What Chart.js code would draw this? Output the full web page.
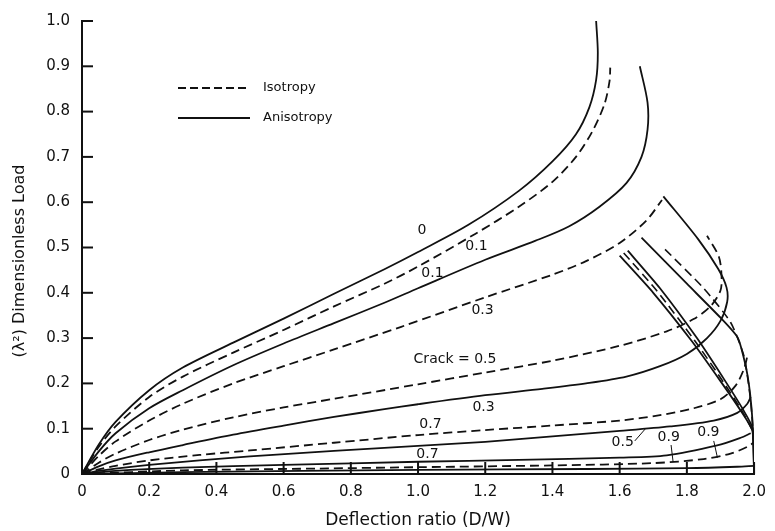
<!DOCTYPE html>
<html>
<head>
<meta charset="utf-8">
<script src="https://cdn.jsdelivr.net/npm/chart.js@4.4.1/dist/chart.umd.min.js"></script>
<style>
  html, body { margin: 0; padding: 0; background: #fff; }
  canvas { display: block; }
</style>
</head>
<body>
<canvas id="chart" width="775" height="531"></canvas>
<script>
// tick labels
const xTickLabels = ['0', '0.2', '0.4', '0.6', '0.8', '1.0', '1.2', '1.4', '1.6', '1.8', '2.0'];
const yTickLabels = ['0', '0.1', '0.2', '0.3', '0.4', '0.5', '0.6', '0.7', '0.8', '0.9', '1.0'];

// anisotropy (solid) curves
const aniso0X = [0, 0.05, 0.1, 0.2, 0.3, 0.45, 0.6, 0.75, 0.9, 1.0, 1.15, 1.3, 1.4, 1.47, 1.51, 1.53, 1.535, 1.53];
const aniso0Y = [0, 0.065, 0.115, 0.185, 0.235, 0.29, 0.343, 0.398, 0.452, 0.49, 0.55, 0.625, 0.69, 0.75, 0.81, 0.87, 0.93, 1.0];
const aniso1X = [0, 0.05, 0.1, 0.2, 0.3, 0.45, 0.6, 0.75, 0.9, 1.0, 1.2, 1.35, 1.45, 1.54, 1.62, 1.665, 1.683, 1.683, 1.66];
const aniso1Y = [0, 0.05, 0.09, 0.145, 0.185, 0.24, 0.288, 0.333, 0.378, 0.41, 0.473, 0.515, 0.547, 0.59, 0.642, 0.7, 0.76, 0.82, 0.9];
const aniso3X = [0, 0.05, 0.1, 0.2, 0.3, 0.45, 0.6, 0.75, 0.9, 1.0, 1.2, 1.37, 1.5, 1.62, 1.72, 1.8, 1.86, 1.9, 1.92, 1.918, 1.893, 1.834, 1.73];
const aniso3Y = [0, 0.017, 0.03, 0.048, 0.064, 0.087, 0.107, 0.126, 0.143, 0.154, 0.174, 0.188, 0.2, 0.215, 0.238, 0.265, 0.3, 0.338, 0.38, 0.412, 0.453, 0.518, 0.613];
const aniso5X = [0, 0.05, 0.1, 0.2, 0.35, 0.5, 0.75, 1.0, 1.2, 1.4, 1.6, 1.75, 1.88, 1.95, 1.98, 1.99];
const aniso5Y = [0, 0.007, 0.012, 0.02, 0.03, 0.039, 0.051, 0.062, 0.071, 0.083, 0.095, 0.105, 0.118, 0.135, 0.155, 0.17];
const aniso7X = [0, 0.1, 0.3, 0.6, 1.0, 1.3, 1.6, 1.74, 1.89, 1.96, 1.99];
const aniso7Y = [0, 0.007, 0.014, 0.02, 0.027, 0.031, 0.036, 0.041, 0.063, 0.08, 0.09];
const aniso9X = [0, 0.3, 1.0, 1.5, 1.8, 1.95, 2.0];
const aniso9Y = [0, 0.004, 0.009, 0.011, 0.013, 0.016, 0.018];

// isotropy (dashed) curves
const iso1X = [0, 0.05, 0.1, 0.2, 0.3, 0.45, 0.6, 0.75, 0.9, 1.0, 1.17, 1.3, 1.4, 1.47, 1.52, 1.555, 1.57, 1.572];
const iso1Y = [0, 0.06, 0.105, 0.17, 0.215, 0.268, 0.318, 0.37, 0.42, 0.458, 0.53, 0.59, 0.645, 0.7, 0.758, 0.817, 0.868, 0.897];
const iso3X = [0, 0.05, 0.1, 0.2, 0.3, 0.45, 0.6, 0.75, 0.95, 1.2, 1.4, 1.5, 1.6, 1.68, 1.726];
const iso3Y = [0, 0.04, 0.072, 0.118, 0.155, 0.2, 0.238, 0.275, 0.325, 0.39, 0.44, 0.47, 0.51, 0.56, 0.605];
const iso5X = [0, 0.05, 0.1, 0.2, 0.3, 0.45, 0.6, 0.75, 1.0, 1.2, 1.4, 1.6, 1.74, 1.82, 1.87, 1.9, 1.903, 1.895, 1.86];
const iso5Y = [0, 0.025, 0.045, 0.075, 0.098, 0.125, 0.147, 0.166, 0.198, 0.224, 0.25, 0.283, 0.315, 0.342, 0.37, 0.405, 0.44, 0.48, 0.526];
const iso7X = [0, 0.05, 0.1, 0.2, 0.35, 0.5, 0.75, 1.0, 1.2, 1.4, 1.6, 1.72, 1.82, 1.9, 1.945, 1.97, 1.98];
const iso7Y = [0, 0.01, 0.018, 0.03, 0.042, 0.052, 0.069, 0.086, 0.097, 0.107, 0.118, 0.13, 0.145, 0.165, 0.195, 0.232, 0.26];
const iso9X = [0, 0.3, 0.7, 1.0, 1.4, 1.7, 1.85, 1.93, 1.98, 2.0];
const iso9Y = [0, 0.008, 0.012, 0.015, 0.019, 0.024, 0.033, 0.045, 0.06, 0.07];

// unloading branches near D/W = 2
const dropAX = [1.60, 1.70, 1.815, 1.90, 1.96, 1.995, 2.0];
const dropAY = [0.482, 0.40, 0.293, 0.205, 0.14, 0.095, 0.0];
const dropBX = [1.624, 1.72, 1.83, 1.91, 1.965, 1.996, 2.0];
const dropBY = [0.493, 0.41, 0.3, 0.21, 0.145, 0.1, 0.0];
const dropCX = [1.612, 1.71, 1.822, 1.905, 1.962, 1.995];
const dropCY = [0.488, 0.405, 0.296, 0.207, 0.142, 0.097];
const dropDX = [1.665, 1.80, 1.90, 1.952, 1.98, 1.995, 2.0];
const dropDY = [0.522, 0.42, 0.345, 0.3, 0.22, 0.12, 0.0];
const dropEX = [1.735, 1.85, 1.93, 1.97, 1.99, 2.0];
const dropEY = [0.496, 0.41, 0.335, 0.26, 0.16, 0.06];

// leader lines for the small labels
const lead5X = [1.645, 1.678];
const lead5Y = [0.073, 0.101];
const lead9aX = [1.753, 1.759];
const lead9aY = [0.064, 0.027];
const lead9bX = [1.88, 1.891];
const lead9bY = [0.073, 0.036];

// curve labels (text and data position)
const labelText = ['0', '0.1', '0.1', '0.3', 'Crack = 0.5', '0.3', '0.7', '0.7', '0.5', '0.9', '0.9'];
const labelX = [1.012, 1.174, 1.043, 1.192, 1.110, 1.195, 1.037, 1.028, 1.609, 1.746, 1.864];
const labelY = [0.538, 0.502, 0.444, 0.361, 0.252, 0.148, 0.109, 0.043, 0.069, 0.080, 0.091];

const INK = '#111';

function pts(xs, ys) {
  return xs.map((x, i) => ({ x: x, y: ys[i] }));
}

const curves = [
  [aniso0X, aniso0Y, false, 0.3, 1.8],
  [aniso1X, aniso1Y, false, 0.3, 1.8],
  [aniso3X, aniso3Y, false, 0.3, 1.8],
  [aniso5X, aniso5Y, false, 0.3, 1.8],
  [aniso7X, aniso7Y, false, 0.3, 1.8],
  [aniso9X, aniso9Y, false, 0.3, 1.8],
  [iso1X, iso1Y, true, 0.3, 1.8],
  [iso3X, iso3Y, true, 0.3, 1.8],
  [iso5X, iso5Y, true, 0.3, 1.8],
  [iso7X, iso7Y, true, 0.3, 1.8],
  [iso9X, iso9Y, true, 0.3, 1.8],
  [dropAX, dropAY, false, 0.2, 1.8],
  [dropBX, dropBY, false, 0.2, 1.8],
  [dropCX, dropCY, true, 0.2, 1.6],
  [dropDX, dropDY, false, 0.2, 1.8],
  [dropEX, dropEY, true, 0.2, 1.6],
  [lead5X, lead5Y, false, 0, 1],
  [lead9aX, lead9aY, false, 0, 1],
  [lead9bX, lead9bY, false, 0, 1]
];

const datasets = curves.map(c => ({
  data: pts(c[0], c[1]),
  showLine: true,
  borderColor: INK,
  borderWidth: c[4],
  borderDash: c[2] ? [9, 5] : [],
  pointRadius: 0,
  tension: c[3],
  fill: false
}));

// inward tick marks on both axes
const inwardTicks = {
  id: 'inwardTicks',
  afterDatasetsDraw(chart) {
    const { ctx, chartArea, scales } = chart;
    ctx.save();
    ctx.strokeStyle = INK;
    ctx.lineWidth = 2;
    scales.x.ticks.forEach(t => {
      const px = scales.x.getPixelForValue(t.value);
      ctx.beginPath();
      ctx.moveTo(px, chartArea.bottom);
      ctx.lineTo(px, chartArea.bottom - 12);
      ctx.stroke();
    });
    scales.y.ticks.forEach(t => {
      const py = scales.y.getPixelForValue(t.value);
      ctx.beginPath();
      ctx.moveTo(chartArea.left, py);
      ctx.lineTo(chartArea.left + 11, py);
      ctx.stroke();
    });
    ctx.restore();
  }
};

// curve labels, legend and y title
const annotations = {
  id: 'annotations',
  afterDatasetsDraw(chart) {
    const { ctx, chartArea, scales } = chart;
    ctx.save();
    ctx.fillStyle = INK;
    ctx.font = '14px "DejaVu Sans"';
    ctx.textAlign = 'center';
    ctx.textBaseline = 'middle';
    labelText.forEach((txt, i) => {
      ctx.fillText(txt, scales.x.getPixelForValue(labelX[i]), scales.y.getPixelForValue(labelY[i]));
    });

    // legend
    const lx = chartArea.left + 96;
    ctx.strokeStyle = INK;
    ctx.lineWidth = 1.8;
    ctx.setLineDash([8, 4]);
    ctx.beginPath();
    ctx.moveTo(lx, chartArea.top + 67);
    ctx.lineTo(lx + 72, chartArea.top + 67);
    ctx.stroke();
    ctx.setLineDash([]);
    ctx.beginPath();
    ctx.moveTo(lx, chartArea.top + 97);
    ctx.lineTo(lx + 72, chartArea.top + 97);
    ctx.stroke();
    ctx.font = '13px "DejaVu Sans"';
    ctx.textAlign = 'left';
    ctx.fillText('Isotropy', lx + 85, chartArea.top + 67);
    ctx.fillText('Anisotropy', lx + 85, chartArea.top + 97);

    // y axis title
    ctx.translate(20, 261);
    ctx.rotate(-Math.PI / 2);
    ctx.textAlign = 'center';
    ctx.font = '16px "DejaVu Sans"';
    ctx.fillText('(\u03bb\u00b2) Dimensionless Load', 0, 0);
    ctx.restore();
  }
};

Chart.defaults.font.family = '"DejaVu Sans", sans-serif';
Chart.defaults.color = INK;

new Chart(document.getElementById('chart').getContext('2d'), {
  type: 'scatter',
  data: { datasets: datasets },
  options: {
    responsive: false,
    animation: false,
    layout: { padding: { top: 15, right: 12, bottom: 0, left: 0 } },
    plugins: {
      legend: { display: false },
      tooltip: { enabled: false }
    },
    scales: {
      x: {
        type: 'linear',
        min: 0,
        max: 2.0,
        afterFit: s => { s.height = 57; },
        grid: { display: false, drawTicks: false },
        border: { display: true, color: INK, width: 2 },
        ticks: {
          stepSize: 0.2,
          padding: 9,
          maxRotation: 0,
          font: { size: 15 },
          color: INK,
          callback: (v, i) => xTickLabels[i] !== undefined ? xTickLabels[i] : v
        },
        title: {
          display: true,
          text: 'Deflection ratio (D/W)',
          font: { size: 17 },
          color: INK,
          padding: { top: 4, bottom: 0 }
        }
      },
      y: {
        type: 'linear',
        min: 0,
        max: 1.0,
        afterFit: s => { s.width = 82; },
        grid: { display: false, drawTicks: false },
        border: { display: true, color: INK, width: 2 },
        ticks: {
          stepSize: 0.1,
          padding: 12,
          font: { size: 15 },
          color: INK,
          callback: (v, i) => yTickLabels[i] !== undefined ? yTickLabels[i] : v
        }
      }
    }
  },
  plugins: [inwardTicks, annotations]
});
</script>
</body>
</html>
